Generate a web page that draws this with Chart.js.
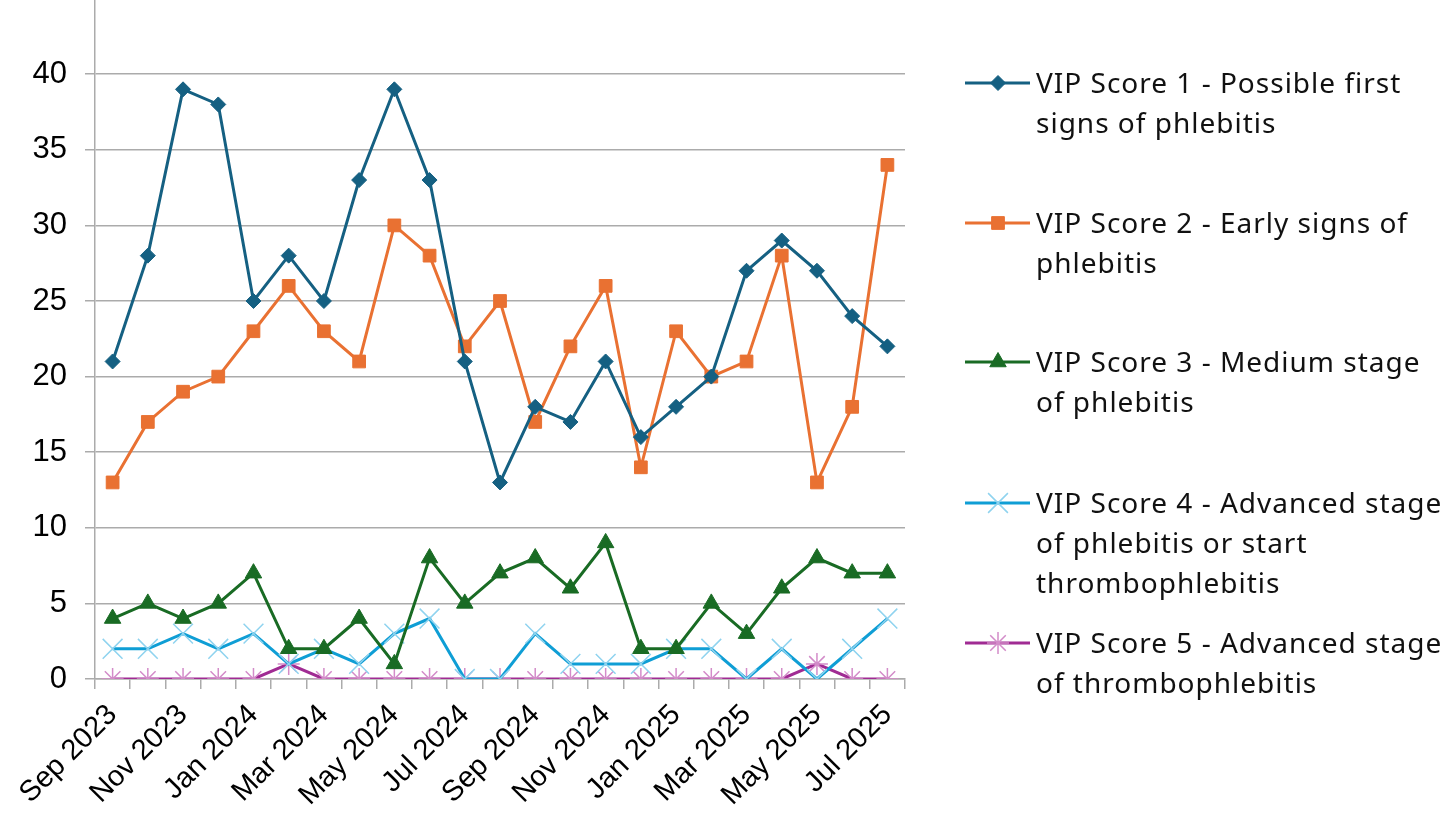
<!DOCTYPE html>
<html>
<head>
<meta charset="utf-8">
<script src="https://cdn.jsdelivr.net/npm/chart.js@4/dist/chart.umd.min.js"></script>
<style>
  html, body { margin: 0; padding: 0; background: #fff; overflow: hidden; }
  #wrap { position: absolute; left: 0; top: -38px; width: 1455px; height: 856px; }
</style>
</head>
<body>
<div id="wrap"><canvas id="vipChart"></canvas></div>
<script>
const TOP_SHIFT = 38; // canvas sits this far above the page

const months = [
  "Sep 2023", "Oct 2023", "Nov 2023", "Dec 2023", "Jan 2024", "Feb 2024",
  "Mar 2024", "Apr 2024", "May 2024", "Jun 2024", "Jul 2024", "Aug 2024",
  "Sep 2024", "Oct 2024", "Nov 2024", "Dec 2024", "Jan 2025", "Feb 2025",
  "Mar 2025", "Apr 2025", "May 2025", "Jun 2025", "Jul 2025",
];
const score1 = [21, 28, 39, 38, 25, 28, 25, 33, 39, 33, 21, 13, 18, 17, 21, 16, 18, 20, 27, 29, 27, 24, 22];
const score2 = [13, 17, 19, 20, 23, 26, 23, 21, 30, 28, 22, 25, 17, 22, 26, 14, 23, 20, 21, 28, 13, 18, 34];
const score3 = [4, 5, 4, 5, 7, 2, 2, 4, 1, 8, 5, 7, 8, 6, 9, 2, 2, 5, 3, 6, 8, 7, 7];
const score4 = [2, 2, 3, 2, 3, 1, 2, 1, 3, 4, 0, 0, 3, 1, 1, 1, 2, 2, 0, 2, 0, 2, 4];
const score5 = [0, 0, 0, 0, 0, 1, 0, 0, 0, 0, 0, 0, 0, 0, 0, 0, 0, 0, 0, 0, 1, 0, 0];

const seriesLabels = [
  "VIP Score 1 - Possible first signs of phlebitis",
  "VIP Score 2 - Early signs of phlebitis",
  "VIP Score 3 - Medium stage of phlebitis",
  "VIP Score 4 - Advanced stage of phlebitis or start thrombophlebitis",
  "VIP Score 5 - Advanced stage of thrombophlebitis",
];

const gridGrey = "#ababab";

// legend drawn on the canvas, to the right of the plot
const sideLegend = {
  id: "sideLegend",
  afterDraw(chart) {
    const ctx = chart.ctx;
    const itemTops = [83, 223, 362, 503, 643];
    const lineH = 40;
    ctx.save();
    ctx.font = "28px 'Noto Sans'";
    ctx.letterSpacing = "1px";
    ctx.textBaseline = "middle";
    chart.data.datasets.forEach((ds, i) => {
      const y0 = itemTops[i] + TOP_SHIFT;
      // wrap the label
      const words = ds.label.split(" ");
      const lines = [];
      let cur = "";
      words.forEach((w) => {
        const test = cur ? cur + " " + w : w;
        if (ctx.measureText(test).width > 412 && cur) {
          lines.push(cur);
          cur = w;
        } else {
          cur = test;
        }
      });
      lines.push(cur);
      ctx.fillStyle = "#111";
      lines.forEach((ln, k) => ctx.fillText(ln, 1036, y0 + 2 + k * lineH));
      // sample line + marker
      ctx.strokeStyle = ds.borderColor;
      ctx.lineWidth = 3;
      ctx.beginPath();
      ctx.moveTo(965, y0);
      ctx.lineTo(1030, y0);
      ctx.stroke();
      ctx.fillStyle = ds.pointBackgroundColor;
      ctx.strokeStyle = ds.pointBorderColor;
      ctx.lineWidth = ds.pointBorderWidth;
      Chart.helpers.drawPoint(ctx, {
        pointStyle: ds.pointStyle,
        radius: ds.pointRadius,
        rotation: 0,
        borderWidth: ds.pointBorderWidth,
      }, 998, y0);
    });
    ctx.restore();
  },
};

new Chart(document.getElementById("vipChart"), {
  type: "line",
  data: {
    labels: months,
    datasets: [
      {
        label: seriesLabels[0],
        data: score1,
        borderColor: "#156082",
        pointBackgroundColor: "#156082",
        pointBorderColor: "#156082",
        pointStyle: "rectRot",
        pointRadius: 7.5,
        pointBorderWidth: 1,
      },
      {
        label: seriesLabels[1],
        data: score2,
        borderColor: "#E97132",
        pointBackgroundColor: "#E97132",
        pointBorderColor: "#E97132",
        pointStyle: "rect",
        pointRadius: 9,
        pointBorderWidth: 1,
      },
      {
        label: seriesLabels[2],
        data: score3,
        borderColor: "#196B24",
        pointBackgroundColor: "#196B24",
        pointBorderColor: "#196B24",
        pointStyle: "triangle",
        pointRadius: 9.5,
        pointBorderWidth: 1,
      },
      {
        label: seriesLabels[3],
        data: score4,
        borderColor: "#0F9ED5",
        pointBackgroundColor: "#8fd3ef",
        pointBorderColor: "#8fd3ef",
        pointStyle: "crossRot",
        pointRadius: 14,
        pointBorderWidth: 1.5,
      },
      {
        label: seriesLabels[4],
        data: score5,
        borderColor: "#A02B93",
        pointBackgroundColor: "#d38cc9",
        pointBorderColor: "#d38cc9",
        pointStyle: "star",
        pointRadius: 11,
        pointBorderWidth: 1.5,
      },
    ],
  },
  options: {
    responsive: true,
    maintainAspectRatio: false,
    animation: false,
    elements: {
      line: { borderWidth: 3, tension: 0 },
    },
    layout: { padding: { left: 0, right: 550, top: 0, bottom: 0 } },
    scales: {
      x: {
        offset: true,
        grid: {
          display: true,
          drawOnChartArea: false,
          drawTicks: true,
          tickLength: 10,
          color: gridGrey,
          lineWidth: 1.5,
          offset: true,
        },
        border: { color: gridGrey, width: 1.5 },
        ticks: {
          autoSkip: false,
          maxRotation: 45,
          minRotation: 45,
          padding: 9,
          color: "#000",
          font: { family: "'Liberation Sans', Arial", size: 29 },
          callback: (v, i) => (i % 2 === 0 ? months[i] : ""),
        },
        afterFit(scale) { scale.height = 139; },
      },
      y: {
        min: 0,
        max: 45,
        grid: { color: gridGrey, lineWidth: 1.5, tickLength: 10 },
        border: { color: gridGrey, width: 1.5 },
        ticks: {
          stepSize: 5,
          padding: 18,
          color: "#000",
          font: { family: "'Liberation Sans', Arial", size: 31 },
          callback: (v) => (v === 45 ? "" : v),
        },
        afterFit(scale) { scale.width = 95; },
      },
    },
    plugins: {
      legend: { display: false },
      tooltip: { enabled: false },
    },
  },
  plugins: [sideLegend],
});
</script>
</body>
</html>
